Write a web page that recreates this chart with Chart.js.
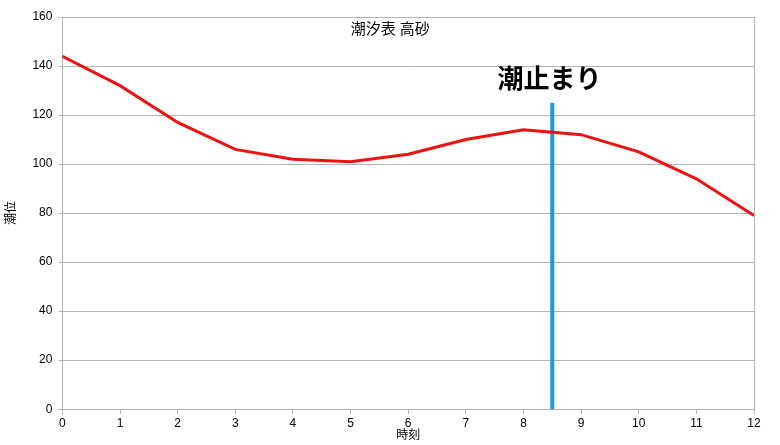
<!DOCTYPE html>
<html><head><meta charset="utf-8">
<script src="https://cdn.jsdelivr.net/npm/chart.js@4"></script>
<style>html,body{margin:0;padding:0;background:#fff}#w{width:780px;height:445px}</style>
</head><body><div id="w"><canvas id="c"></canvas></div>
<script>
const hours = [0,1,2,3,4,5,6,7,8,9,10,11,12];
const tideLevel = [144,132,117,106,102,101,104,110,114,112,105,94,79];
const slackX = [8.5, 8.5];
const slackY = [0, 125];
const chartTitle = '潮汐表 高砂';
const slackLabel = '潮止まり';
const F = '"Liberation Sans","Noto Sans CJK JP",sans-serif';
const textPlugin = {
  id:'txt',
  afterDatasetsDraw(ch){
    const c=ch.ctx, a=ch.chartArea, x=ch.scales.x, y=ch.scales.y;
    c.save();
    c.fillStyle='#000';c.textAlign='center';c.textBaseline='middle';
    c.font='15px '+F;
    c.fillText(chartTitle,(a.left+a.right)/2-18,a.top+13);
    c.font='bold 26px '+F;
    c.fillText(slackLabel,x.getPixelForValue(8.45),y.getPixelForValue(134));
    c.strokeStyle='#b3b3b3';c.lineWidth=1;
    c.beginPath();c.moveTo(a.right+0.5,a.top);c.lineTo(a.right+0.5,a.bottom);c.stroke();
    c.restore();
  }
};
new Chart(document.getElementById('c'),{
  type:'line',
  data:{datasets:[
    {data:hours.map((h,i)=>({x:h,y:tideLevel[i]})),borderColor:'#ee1111',borderWidth:3,pointRadius:0,tension:0},
    {data:slackX.map((h,i)=>({x:h,y:slackY[i]})),borderColor:'#1a9ad6',borderWidth:4,pointRadius:0}
  ]},
  options:{responsive:true,maintainAspectRatio:false,animation:false,
    layout:{padding:{top:17,right:26,left:4,bottom:2}},
    plugins:{legend:{display:false},tooltip:{enabled:false}},
    scales:{
      x:{type:'linear',min:0,max:12,
        ticks:{stepSize:1,color:'#000',font:{family:F,size:12},padding:2},
        grid:{display:true,drawOnChartArea:false,color:'#b3b3b3',tickLength:5},
        border:{color:'#b3b3b3'},
        title:{display:true,text:'時刻',color:'#000',font:{family:F,size:12},padding:{top:-4,bottom:0}}},
      y:{min:0,max:160,
        ticks:{stepSize:20,color:'#000',font:{family:F,size:12},padding:6},
        grid:{color:'#b3b3b3',tickLength:4},
        border:{color:'#b3b3b3'},
        title:{display:true,text:'潮位',color:'#000',font:{family:F,size:12},padding:{top:0,bottom:8}}}
    }
  },
  plugins:[textPlugin]
});
</script></body></html>
